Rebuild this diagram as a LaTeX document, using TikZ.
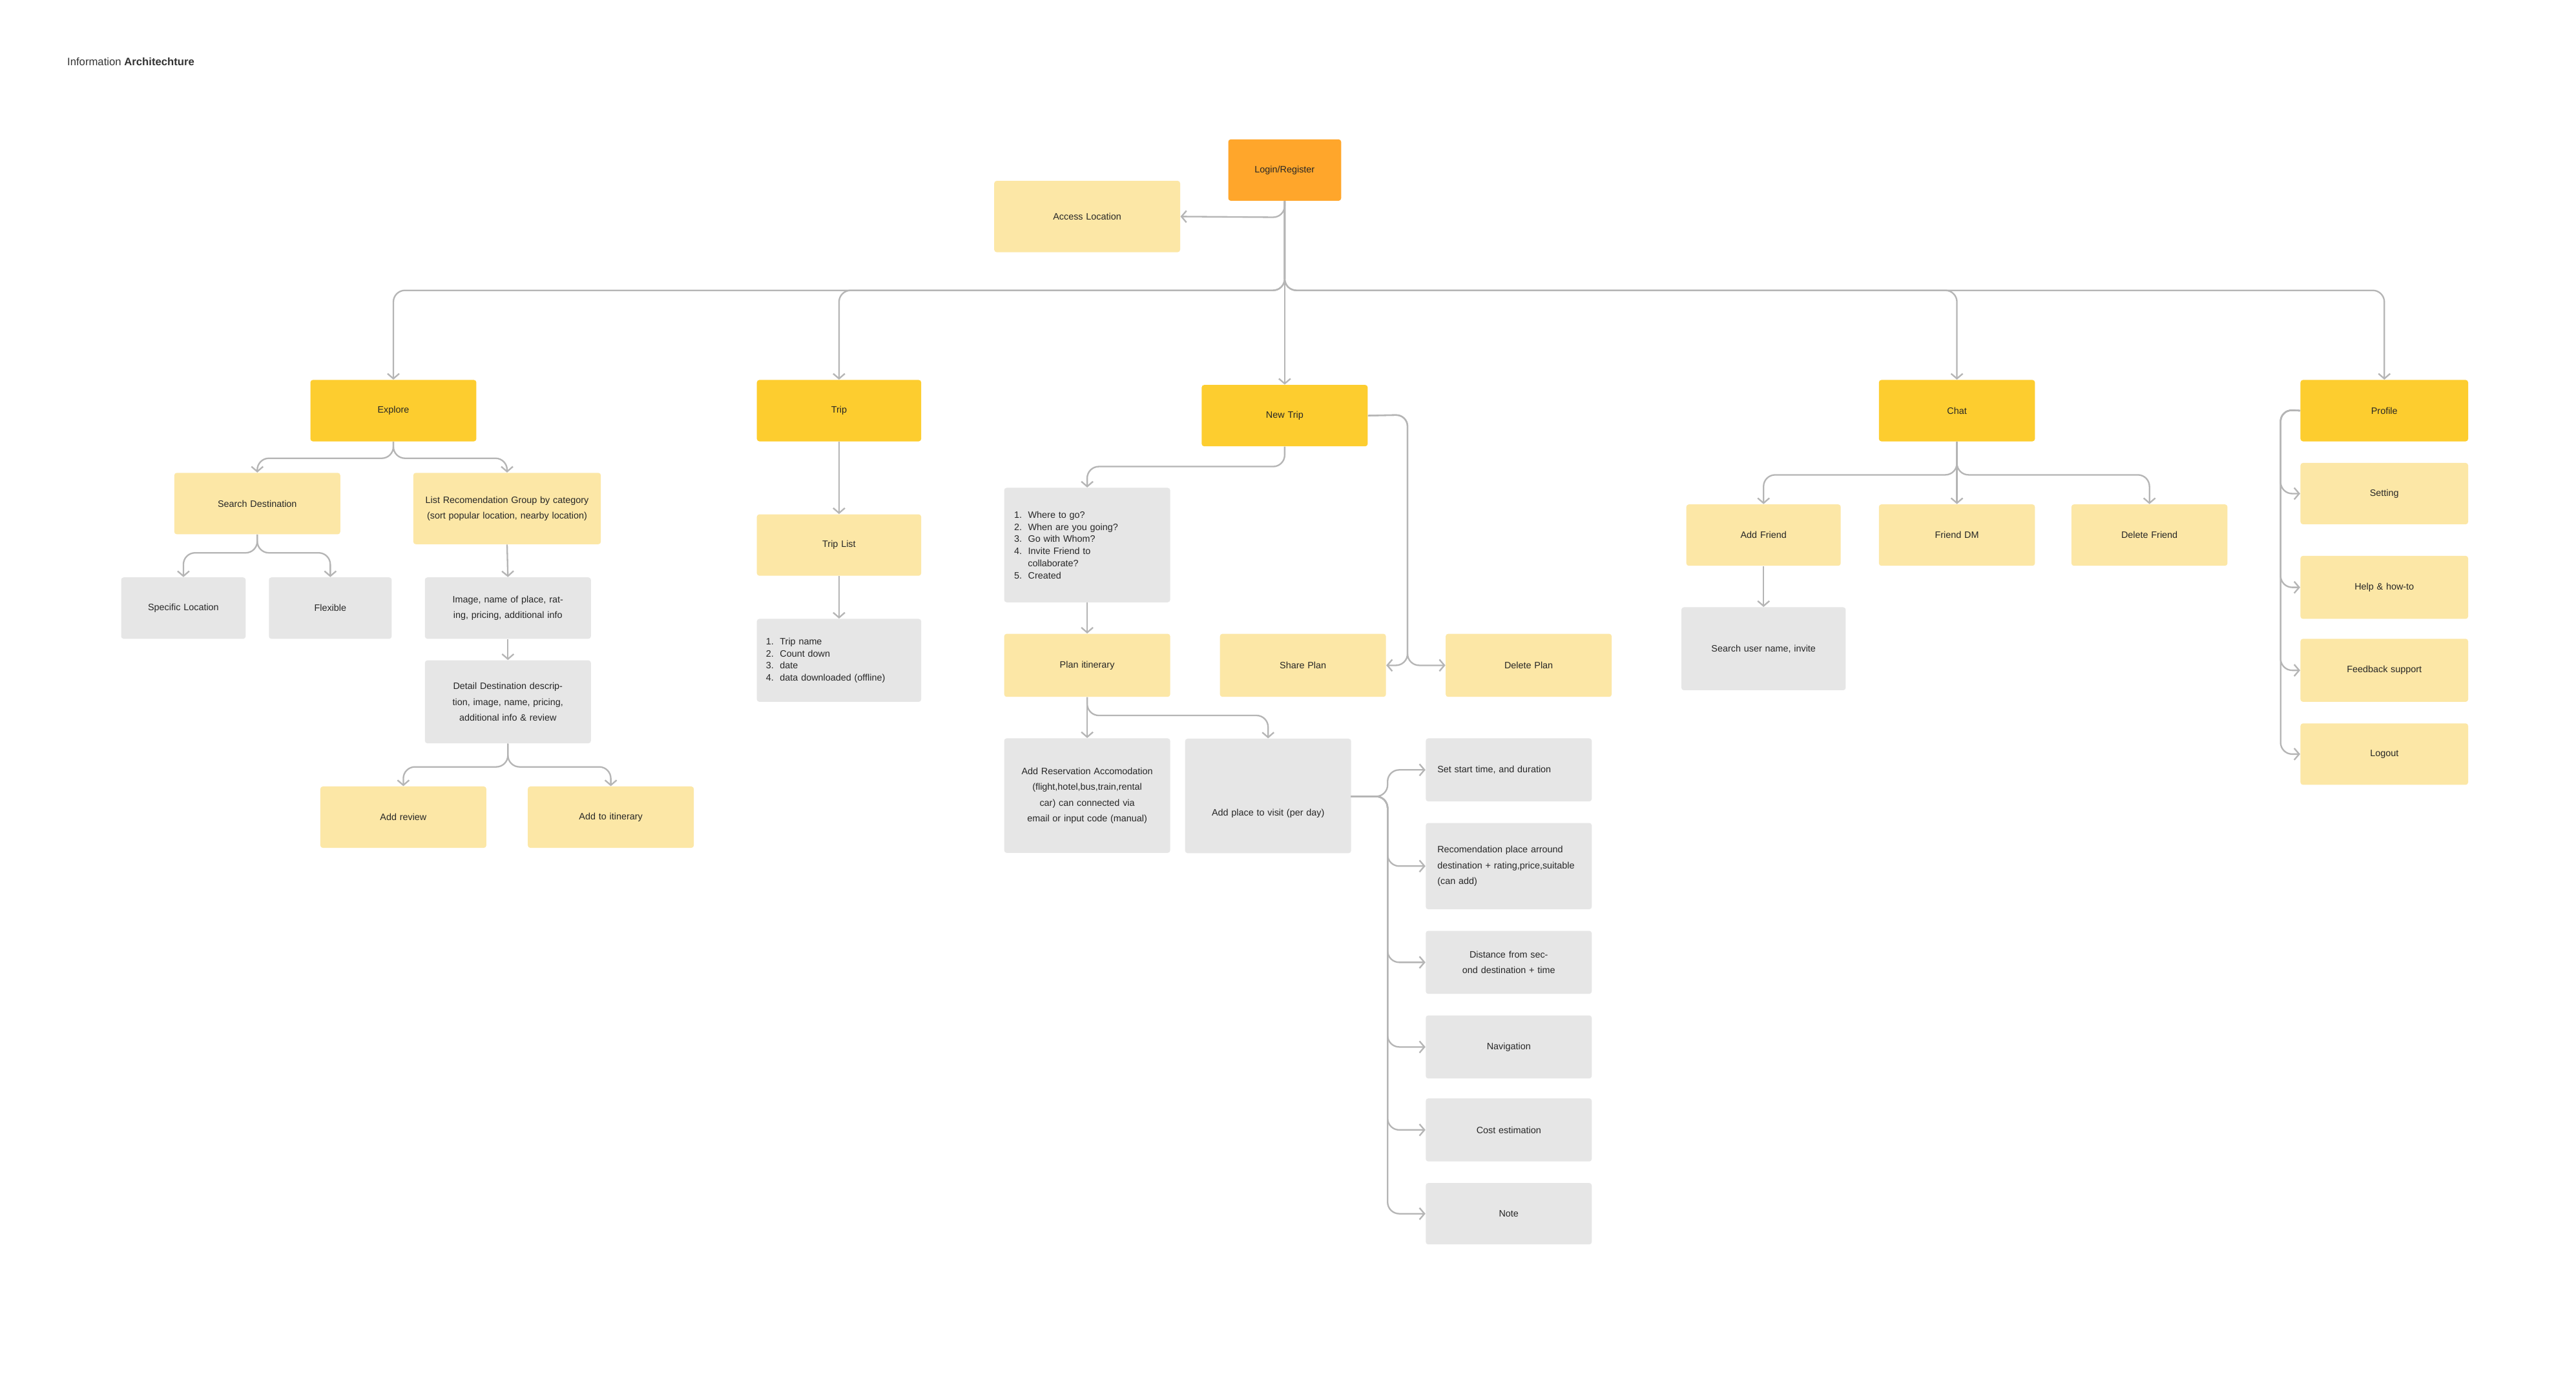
\documentclass[tikz,border=0pt]{standalone}
\usepackage{fontspec}
\setmainfont{Liberation Sans}
\usetikzlibrary{arrows.meta,calc}
\definecolor{cOrange}{HTML}{FFA62B}
\definecolor{cYellow}{HTML}{FDCD2F}
\definecolor{cLight}{HTML}{FCE7A6}
\definecolor{cGray}{HTML}{E6E6E6}
\definecolor{cLine}{HTML}{B5B5B5}
\begin{document}
\begin{tikzpicture}[x=1pt,y=-1pt,
  box/.style={rounded corners=1.5pt,inner sep=0pt,align=center,font=\fontsize{5.6}{9.5}\selectfont,text=black!85},
  orng/.style={box,fill=cOrange},
  yel/.style={box,fill=cYellow},
  lyel/.style={box,fill=cLight},
  gry/.style={box,fill=cGray},
  conn/.style={draw=cLine,line width=0.9pt,rounded corners=7pt,-{Straight Barb[length=3pt,width=7pt]}},
  plain/.style={draw=cLine,line width=0.9pt,rounded corners=7pt}]
\useasboundingbox[fill=white] (0,0) rectangle (1552,829);
\node[anchor=west,font=\fontsize{6.5}{8}\selectfont,text=black!80] (title) at (37,37) {Information \textbf{Architechture}};
\def\bx#1#2#3#4#5#6#7{\node[#1,minimum width=#5-#3,minimum height=#6-#4,text width=#5-#3-14] (#2) at ({(#3+#5)/2},{(#4+#6)/2}) {#7};}
\bx{orng}{login}{740}{84}{808}{121}{Login/Register}
\bx{lyel}{access}{599}{109}{711}{152}{Access Location}
\bx{yel}{explore}{187}{229}{287}{266}{Explore}
\bx{yel}{trip}{456}{229}{555}{266}{Trip}
\bx{yel}{newtrip}{724}{232}{824}{269}{New Trip}
\bx{yel}{chat}{1132}{229}{1226}{266}{Chat}
\bx{yel}{profile}{1386}{229}{1487}{266}{Profile}
\bx{lyel}{sd}{105}{285}{205}{322}{Search Destination}
\bx{lyel}{lrg}{249}{285}{362}{328}{List Recomendation Group by category (sort popular location, nearby location)}
\bx{gry}{spec}{73}{348}{148}{385}{Specific Location}
\bx{gry}{flex}{162}{348}{236}{385}{Flexible}
\bx{gry}{img}{256}{348}{356}{385}{Image, name of place, rating, pricing, additional info}
\bx{gry}{detail}{256}{398}{356}{448}{Detail Destination description, image, name, pricing, additional info \& review}
\bx{lyel}{review}{193}{474}{293}{511}{Add review}
\bx{lyel}{additin}{318}{474}{418}{511}{Add to itinerary}
\bx{lyel}{triplist}{456}{310}{555}{347}{Trip List}
\node[gry,minimum width=99,minimum height=50,text width=88,align=left] (tripd) at (505.5,398) {1.\ \ Trip name\\[-2.2pt]2.\ \ Count down\\[-2.2pt]3.\ \ date\\[-2.2pt]4.\ \ data downloaded (offline)};
\node[gry,minimum width=100,minimum height=69,text width=88,align=left] (quest) at (655,328.5) {1.\ \ Where to go?\\[-2.2pt]2.\ \ When are you going?\\[-2.2pt]3.\ \ Go with Whom?\\[-2.2pt]4.\ \ Invite Friend to\\[-2.2pt]\hspace*{8.3pt}collaborate?\\[-2.2pt]5.\ \ Created};
\bx{lyel}{plan}{605}{382}{705}{420}{Plan itinerary}
\bx{lyel}{share}{735}{382}{835}{420}{Share Plan}
\bx{lyel}{delete}{871}{382}{971}{420}{Delete Plan}
\bx{gry}{addres}{605}{445}{705}{514}{Add Reservation Accomodation (flight,hotel,bus,train,rental car) can connected via email or input code (manual)}
\node[gry,minimum width=100,minimum height=69,text width=92,anchor=north] (addplace) at (764,445) {\rule{0pt}{25pt}Add place to visit (per day)};
\node[gry,minimum width=100,minimum height=38,text width=86,align=left] (setst) at (909,464) {Set start time, and duration};
\node[gry,minimum width=100,minimum height=52,text width=86,align=left] (recom) at (909,522) {Recomendation place arround destination + rating,price,suitable (can add)};
\bx{gry}{dist}{859}{561}{959}{599}{Distance from second destination + time}
\bx{gry}{nav}{859}{612}{959}{650}{Navigation}
\bx{gry}{cost}{859}{662}{959}{700}{Cost estimation}
\bx{gry}{note}{859}{713}{959}{750}{Note}
\bx{lyel}{addf}{1016}{304}{1109}{341}{Add Friend}
\bx{lyel}{fdm}{1132}{304}{1226}{341}{Friend DM}
\bx{lyel}{delf}{1248}{304}{1342}{341}{Delete Friend}
\bx{gry}{searchu}{1013}{366}{1112}{416}{Search user name, invite}
\bx{lyel}{setting}{1386}{279}{1487}{316}{Setting}
\bx{lyel}{help}{1386}{335}{1487}{373}{Help \& how-to}
\bx{lyel}{feed}{1386}{385}{1487}{423}{Feedback support}
\bx{lyel}{logout}{1386}{436}{1487}{473}{Logout}
% top
\coordinate (bus) at (774,175);
\draw[conn] (login.south) -- (774,131) -- (access.east);
\foreach \t in {explore,trip,chat,profile}{\draw[conn] (login.south) -- (bus) -| (\t.north);}
\draw[conn] (login.south) -- (newtrip.north);
% explore
\foreach \t in {sd,lrg}{\draw[conn] (explore.south) -- ++(0,10) -| (\t.north);}
\foreach \t in {spec,flex}{\draw[conn] (sd.south) -- ++(0,11) -| (\t.north);}
\draw[conn] (lrg.south) -- (img.north);
\draw[conn] (img.south) -- (detail.north);
\foreach \t in {review,additin}{\draw[conn] (detail.south) -- ++(0,14) -| (\t.north);}
% trip
\draw[conn] (trip.south) -- (triplist.north);
\draw[conn] (triplist.south) -- (tripd.north);
% new trip
\draw[conn] (newtrip.south) -- ++(0,12) -| (quest.north);
\draw[conn] (newtrip.east) -- (848,250) -- (848,401) -- (share.east);
\draw[conn] (newtrip.east) -- (848,250) -- (848,401) -- (delete.west);
\draw[conn] (quest.south) -- (plan.north);
\draw[conn] (plan.south) -- (addres.north);
\draw[conn] (plan.south) -- ++(0,11) -| (addplace.north);
\foreach \t in {setst,recom,dist,nav,cost,note}{\draw[conn] (814,480) -- (836,480) |- (\t.west);}
% chat
\foreach \t in {addf,fdm,delf}{\draw[conn] (chat.south) -- ++(0,20) -| (\t.north);}
\draw[conn] (addf.south) -- (searchu.north);
% profile
\foreach \t in {setting,help,feed,logout}{\draw[conn] (profile.west) -- (1374,247) |- (\t.west);}
\end{tikzpicture}
\end{document}
